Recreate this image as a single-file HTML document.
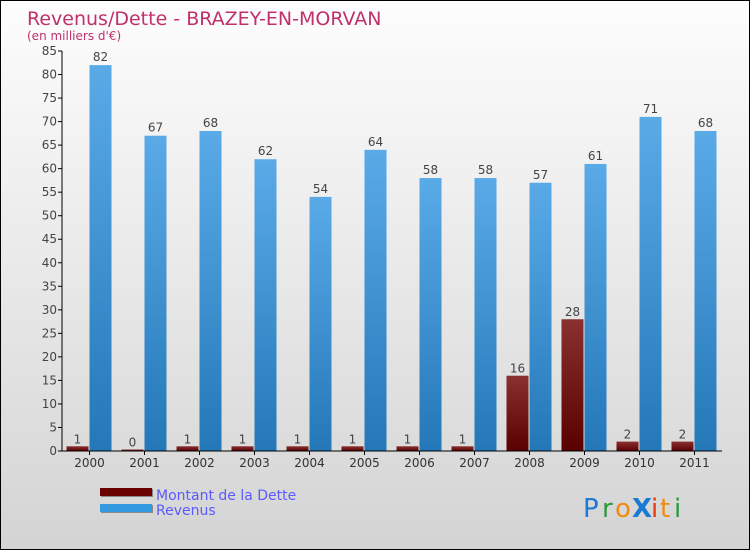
<!DOCTYPE html>
<html><head><meta charset="utf-8"><style>
body{margin:0}
#c{width:748px;height:548px;border:1px solid #000;position:relative;background:linear-gradient(#fdfdfd,#d4d4d4);font-family:"DejaVu Sans","Liberation Sans",sans-serif;overflow:hidden}
</style></head><body>
<div id="c">
<svg id="s" width="748" height="548" xmlns="http://www.w3.org/2000/svg">
<text x="26" y="24" font-size="19" fill="#c0306a">Revenus/Dette - BRAZEY-EN-MORVAN</text>
<text x="26" y="39" font-size="12" fill="#c0306a">(en milliers d'€)</text>
<g id="plot"></g>
<rect x="100" y="488" width="52" height="8" fill="#888"/>
<rect x="99" y="487" width="52" height="8" fill="#6b0000"/>
<text x="155" y="499" font-size="14" fill="#5a5aff">Montant de la Dette</text>
<rect x="100" y="504" width="52" height="8" fill="#888"/>
<rect x="99" y="503" width="52" height="8" fill="#3399e0"/>
<text x="155" y="514" font-size="14" fill="#5a5aff">Revenus</text>
<g font-size="26" font-family="'DejaVu Sans',sans-serif">
<text x="582" y="516" fill="#1a7ad4">P</text><text x="601" y="516" fill="#2a9a3a">r</text><text x="614" y="516" fill="#f08a10">o</text><text x="631" y="516" fill="#1a7ad4" font-weight="bold">X</text><text x="650" y="516" fill="#e83a10">i</text><text x="659" y="516" fill="#f08a10">t</text><text x="673" y="516" fill="#2a9a3a">i</text>
</g>
</svg>
</div>
<script>
const years=["2000","2001","2002","2003","2004","2005","2006","2007","2008","2009","2010","2011"];
const dette=[1,0,1,1,1,1,1,1,16,28,2,2];
const revenus=[82,67,68,62,54,64,58,58,57,61,71,68];
const yTicks=[0,5,10,15,20,25,30,35,40,45,50,55,60,65,70,75,80,85];
const NS="http://www.w3.org/2000/svg";
const g=document.getElementById('plot');
const x0=61,x1=721,y0=450,yTop=50,yMax=85;
const gw=(x1-x0)/years.length;
function y(v){return y0-(v/yMax)*(y0-yTop);}
function cx(i){return x0+gw*(i+0.5);}
function mk(t,a){const e=document.createElementNS(NS,t);for(const k in a)e.setAttribute(k,a[k]);g.appendChild(e);return e;}
const defs=mk('defs',{});
defs.innerHTML='<linearGradient id="gb" x1="0" y1="0" x2="0" y2="1"><stop offset="0" stop-color="#5aaae8"/><stop offset="1" stop-color="#2478b8"/></linearGradient><linearGradient id="gr" x1="0" y1="0" x2="0" y2="1"><stop offset="0" stop-color="#8a3030"/><stop offset="1" stop-color="#5a0000"/></linearGradient>';
const bw=22;
years.forEach((yr,i)=>{
 const c=cx(i);
 let hd=Math.max(y0-y(dette[i]),1.5);
 let r=mk('rect',{x:c-bw-1,y:y0-hd,width:bw,height:hd,fill:'url(#gr)'});
 
 
 let t=mk('text',{x:c-bw/2-1,y:y0-hd-3,'font-size':12,fill:'#444','text-anchor':'middle'});t.textContent=dette[i];
 
 
 let r2=mk('rect',{x:c,y:y(revenus[i]),width:bw,height:y0-y(revenus[i]),fill:'url(#gb)'});
 
 
 let t2=mk('text',{x:c+bw/2,y:y(revenus[i])-4,'font-size':12,fill:'#444','text-anchor':'middle'});t2.textContent=revenus[i];
 
 
 let tk=mk('line',{x1:c,x2:c,y1:y0,y2:y0+4,stroke:'#000'});
 
 
 let lb=mk('text',{x:c,y:y0+16,'font-size':12,fill:'#333','text-anchor':'middle'});lb.textContent=yr;
 
 
});
yTicks.forEach(v=>{
 let l=mk('line',{x1:x0-4,x2:x0,y1:y(v),y2:y(v),stroke:'#000'});
 
 
 let t=mk('text',{x:x0-5,y:y(v)+4,'font-size':12,fill:'#444','text-anchor':'end'});t.textContent=v;
 
 
});
let ya=mk('line',{x1:x0,x2:x0,y1:yTop,y2:y0,stroke:'#000'});


let xa=mk('line',{x1:x0-4,x2:x1,y1:y0,y2:y0,stroke:'#000'});


</script>
</body></html>
